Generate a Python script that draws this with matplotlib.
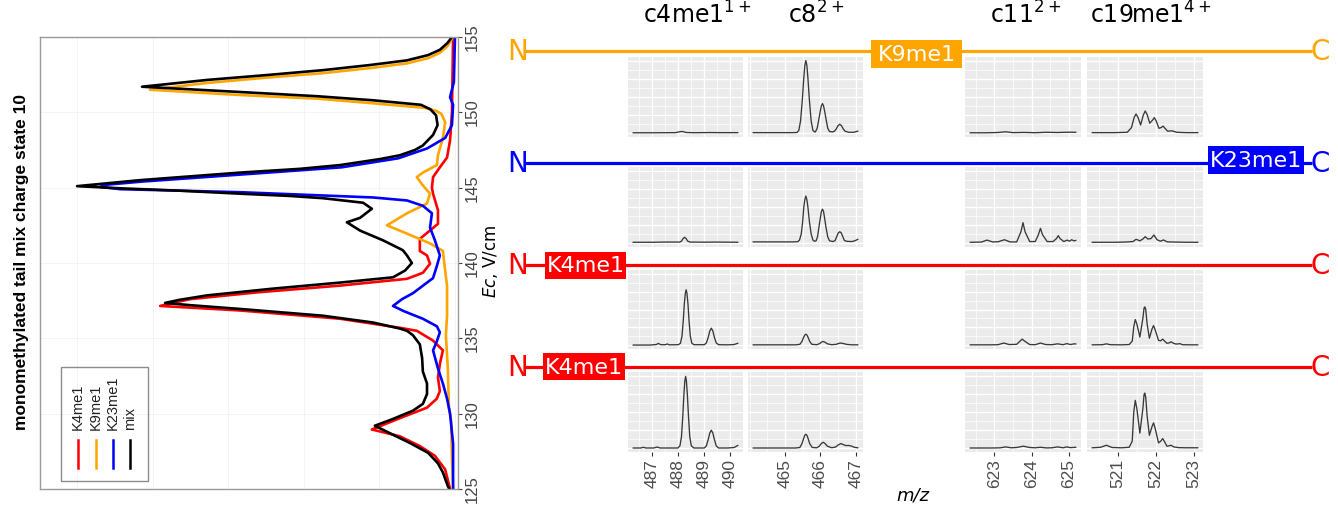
import matplotlib.pyplot as plt
from matplotlib.patches import Rectangle
from matplotlib.ticker import MultipleLocator

W, H = 1338, 514

# ---- CV scans, charge state 10 (compensation field, relative intensity)
ec_k4 = [125.0, 126.3, 127.2, 127.85, 128.5, 128.95, 129.7, 130.4, 131.0, 131.5, 132.4,
         133.3, 134.2, 134.85, 135.5, 135.7, 136.3, 136.85, 137.15, 137.6, 138.05, 138.5,
         138.95, 139.35, 139.95, 140.5, 140.8, 141.6, 142.6, 143.5, 144.6, 145.0, 145.7,
         146.35, 147.0, 148.15, 150.0, 155.0]
int_k4 = [1.3, 2.6, 5.3, 9.3, 14.6, 22.0, 14.6, 7.4, 4.8, 4.0, 4.5,
          4.0, 3.2, 5.8, 10.1, 14.6, 30.4, 56.9, 78.0, 70.1, 52.4, 30.4,
          12.7, 8.5, 6.6, 7.4, 9.3, 9.3, 4.5, 4.5, 5.8, 6.1, 5.8,
          4.0, 2.1, 1.3, 0.8, 0.5]

ec_k9 = [125.0, 127.0, 129.5, 130.4, 133.0, 135.2, 136.5, 138.5, 139.5, 140.8, 141.3,
         141.95, 142.5, 143.3, 143.95, 144.6, 145.15, 145.7, 146.0, 146.5, 147.15, 148.3,
         149.35, 149.9, 150.1, 150.3, 150.6, 150.9, 151.15, 151.5, 151.95, 152.3, 152.6,
         152.95, 153.25, 153.6, 153.95, 154.4, 155.0]
int_k9 = [0.5, 0.8, 1.0, 1.6, 1.9, 2.4, 2.1, 2.1, 2.6, 3.2, 6.6,
          12.7, 18.0, 12.7, 7.4, 6.6, 8.5, 10.1, 8.5, 4.8, 4.5, 3.2,
          2.6, 3.6, 5.0, 8.0, 21.7, 36.0, 56.9, 80.7, 65.6, 50.0, 34.9,
          22.0, 12.7, 7.0, 4.0, 2.0, 0.5]

ec_k23 = [125.0, 128.0, 130.0, 131.0, 132.0, 133.0, 134.2, 134.8, 135.4, 135.8, 136.3,
          136.8, 137.15, 137.6, 138.0, 139.0, 139.8, 140.5, 141.5, 142.35, 143.3, 143.8,
          144.15, 144.35, 144.7, 144.9, 145.05, 145.2, 145.4, 145.9, 146.35, 146.95, 147.6,
          148.3, 149.15, 150.5, 151.0, 152.0, 155.0]
int_k23 = [0.5, 0.5, 1.3, 2.1, 3.2, 4.5, 5.8, 4.8, 4.0, 4.8, 8.5,
           13.5, 16.4, 14.0, 11.1, 5.8, 4.8, 4.0, 5.3, 6.6, 6.1, 8.5,
           12.7, 21.7, 56.9, 88.6, 94.0, 92.0, 83.0, 55.0, 30.0, 15.0, 7.4,
           2.6, 0.8, 0.5, 1.3, 0.3, 0.0]

ec_mix = [125.0, 125.2, 126.1, 126.7, 127.4, 128.05, 128.7, 129.2, 129.65, 130.2, 130.65,
          131.3, 132.0, 132.8, 133.7, 134.6, 135.2, 135.5, 135.65, 136.05, 136.5, 136.95,
          137.2, 137.35, 137.55, 137.85, 138.3, 138.7, 139.05, 139.5, 140.0, 140.5, 140.85,
          141.5, 142.15, 142.7, 143.0, 143.6, 144.0, 144.3, 144.45, 144.6, 144.8, 144.95,
          145.1, 145.5, 146.0, 146.25, 146.5, 146.9, 147.15, 147.5, 147.8, 148.5, 149.15,
          149.8, 150.2, 150.5, 150.8, 151.07, 151.35, 151.7, 152.15, 152.47, 152.8, 153.14,
          153.45, 153.8, 154.15, 154.6, 155.0]
int_mix = [1.5, 1.9, 3.2, 4.5, 7.1, 11.9, 17.2, 21.2, 16.4, 11.1, 8.5,
           7.4, 7.4, 8.5, 8.7, 9.3, 11.1, 12.7, 14.6, 21.7, 34.9, 56.9,
           70.0, 76.7, 73.0, 65.6, 48.1, 30.4, 16.4, 13.2, 11.4, 12.7, 13.8,
           19.0, 25.1, 28.6, 25.1, 22.0, 24.3, 34.9, 43.7, 56.9, 72.8, 87.8,
           100.0, 83.3, 56.9, 41.0, 30.4, 19.8, 14.6, 10.6, 8.5, 5.8, 4.6,
           5.0, 6.5, 9.0, 21.7, 36.5, 56.9, 82.8, 65.6, 50.0, 34.9, 22.5,
           12.7, 7.1, 4.0, 2.0, 0.8]

trace_labels = ["K4me1", "K9me1", "K23me1", "mix"]
trace_colors = ["#ff0000", "#ffa500", "#0000ff", "#000000"]

# ---- fragment spectra: rows = K9me1, K23me1, K4me1, K4me1; cols = fragment ions
frag_labels = [r"c4me1$^{1+}$", r"c8$^{2+}$", r"c11$^{2+}$", r"c19me1$^{4+}$"]
frag_ticks = [[487, 488, 489, 490], [465, 466, 467], [623, 624, 625], [521, 522, 523]]

mz_k9_c4 = [486.26, 487.0, 487.9, 488.05, 488.15, 488.3, 488.6, 489.2, 489.6, 490.29]
in_k9_c4 = [0.8, 0.8, 1.0, 2.2, 2.6, 1.2, 0.9, 1.1, 1.0, 1.0]
mz_k9_c8 = [464.1, 465.2, 465.34, 465.39, 465.44, 465.49, 465.53, 465.56, 465.59, 465.62,
            465.65, 465.69, 465.74, 465.79, 465.84, 465.86, 465.91, 465.96, 466.0, 466.03,
            466.06, 466.09, 466.12, 466.16, 466.21, 466.26, 466.35, 466.4, 466.45, 466.5,
            466.55, 466.6, 466.65, 466.7, 466.8, 466.95, 467.06]
in_k9_c8 = [1, 1, 1.2, 4, 17, 46, 75, 93, 100, 93,
            75, 46, 17, 4, 2, 2, 7, 20, 31, 38,
            41, 38, 31, 20, 7, 2.5, 2, 3, 6, 10.5,
            12.5, 10.5, 6, 3, 1.5, 1.5, 3]
mz_k9_c11 = [622.35, 622.8, 623.1, 623.3, 623.5, 623.8, 624.1, 624.4, 624.7, 625.0, 625.19]
in_k9_c11 = [0.8, 0.8, 1.2, 2.2, 1.0, 1.3, 0.9, 1.5, 1.2, 1.6, 1.5]
mz_k9_c19 = [520.33, 520.9, 521.25, 521.36, 521.43, 521.48, 521.53, 521.6, 521.67, 521.72,
             521.77, 521.84, 521.91, 521.96, 522.01, 522.08, 522.14, 522.19, 522.24, 522.31,
             522.42, 522.55, 522.8, 523.1]
in_k9_c19 = [1, 1, 1.5, 8, 22, 26.7, 22, 11.5, 25, 30.8, 26, 14, 18, 21.6, 17, 7, 8, 10, 7, 3,
             3.5, 1.5, 1, 1]

mz_k23_c4 = [486.26, 487.0, 487.5, 488.05, 488.12, 488.18, 488.24, 488.3, 488.36, 488.45,
             489.0, 489.5, 490.29]
in_k23_c4 = [1.5, 1.5, 1.8, 1.8, 3, 6.5, 8.4, 6.5, 3, 1.8, 1.6, 1.8, 1.5]
mz_k23_c8 = [464.1, 465.2, 465.36, 465.41, 465.46, 465.5, 465.53, 465.56, 465.59, 465.62,
             465.65, 465.69, 465.74, 465.79, 465.84, 465.88, 465.92, 465.96, 466.0, 466.03,
             466.06, 466.09, 466.12, 466.16, 466.21, 466.26, 466.36, 466.42, 466.47, 466.51,
             466.55, 466.59, 466.63, 466.68, 466.75, 466.9, 467.0, 467.06]
in_k23_c8 = [2, 2, 2.3, 4.5, 13, 30, 49, 60, 65, 60,
             49, 30, 13, 4.5, 2.8, 3.5, 9, 22, 35, 44,
             47, 44, 35, 22, 9, 3.5, 2.5, 4, 10, 14.5,
             16, 14.5, 10, 4, 2.8, 2.5, 4, 5.6]
mz_k23_c11 = [622.35, 622.65, 622.8, 622.95, 623.1, 623.27, 623.42, 623.6, 623.715, 623.77,
              623.825, 623.95, 624.1, 624.185, 624.24, 624.295, 624.42, 624.58, 624.67, 624.72,
              624.77, 624.87, 624.96, 625.02, 625.08, 625.14, 625.19]
in_k23_c11 = [1.5, 1.8, 4.5, 2.0, 2.2, 5.0, 2.0, 2.0, 16, 28.5, 16, 2.5, 2.5, 12, 20.7, 12, 2.5,
              2.5, 6.5, 10.6, 6.5, 2.5, 4.5, 3, 5, 3.5, 4]
mz_k23_c19 = [520.33, 520.9, 521.2, 521.4, 521.48, 521.58, 521.66, 521.72, 521.79, 521.87,
              521.95, 522.03, 522.12, 522.2, 522.3, 522.5, 522.8, 523.1]
in_k23_c19 = [1.5, 1.5, 1.8, 2.5, 5.6, 3.5, 6, 9.2, 6, 6.5, 11.5, 5, 3, 4.7, 2, 1.8, 1.5, 1.5]

mz_k4a_c4 = [486.26, 486.9, 487.15, 487.23, 487.32, 487.5, 487.57, 487.65, 488.0, 488.08,
             488.14, 488.19, 488.23, 488.27, 488.3, 488.33, 488.37, 488.41, 488.46, 488.52,
             488.6, 489.0, 489.08, 489.15, 489.21, 489.27, 489.33, 489.39, 489.46, 489.55,
             489.9, 490.15, 490.29]
in_k4a_c4 = [0.5, 0.5, 1.2, 2.8, 1.0, 1.0, 2.0, 0.8, 1.0, 3,
             13, 35, 58, 73, 77.5, 73, 58, 35, 13, 3,
             1.0, 1.0, 3.5, 11, 20, 24, 20, 11, 3.5, 1.0,
             0.8, 1.2, 3]
mz_k4a_c8 = [464.1, 465.3, 465.42, 465.48, 465.53, 465.56, 465.59, 465.62, 465.65, 465.7,
             465.76, 465.9, 465.98, 466.03, 466.08, 466.13, 466.2, 466.32, 466.45, 466.52,
             466.58, 466.65, 466.75, 466.9, 467.06]
in_k4a_c8 = [0.8, 0.8, 1.5, 5.5, 11.5, 14.5, 15.6, 14.5, 11.5, 5.5,
             1.5, 1.0, 2.5, 4.5, 5.5, 4.5, 2.2, 1.0, 1.5, 2.8,
             3.3, 2.6, 1.4, 0.8, 0.8]
mz_k4a_c11 = [622.35, 622.9, 623.1, 623.25, 623.4, 623.6, 623.7, 623.75, 623.8, 623.95,
              624.1, 624.24, 624.38, 624.55, 624.7, 624.85, 624.95, 625.05, 625.15, 625.19]
in_k4a_c11 = [0.8, 0.8, 1.0, 3.3, 1.2, 1.5, 6.5, 8.8, 6.5, 1.2, 1.0, 3.3, 1.2, 1.0, 2.2, 1.0,
              2.5, 1.2, 2.2, 2.0]
mz_k4a_c19 = [520.33, 520.6, 520.7, 520.8, 521.1, 521.3, 521.38, 521.42, 521.46, 521.5,
              521.58, 521.66, 521.69, 521.71, 521.735, 521.77, 521.83, 521.9, 521.94, 521.98,
              522.07, 522.13, 522.18, 522.23, 522.29, 522.35, 522.4, 522.46, 522.52, 522.58,
              522.63, 522.7, 522.9, 523.1]
in_k4a_c19 = [0.8, 1.0, 2.2, 1.0, 0.8, 1.2, 6, 26, 36, 30, 11.6, 38, 52, 53.7, 50, 30, 10, 23,
              27.6, 22, 7, 6.5, 8.8, 6, 3, 3.5, 5, 3, 2.0, 2.0, 2.5, 1.0, 0.8, 0.8]

mz_k4b_c4 = [486.26, 486.55, 486.65, 486.75, 487.05, 487.18, 487.3, 487.98, 488.06, 488.12,
             488.17, 488.21, 488.25, 488.28, 488.31, 488.35, 488.39, 488.44, 488.5, 488.6,
             489.0, 489.08, 489.15, 489.21, 489.27, 489.33, 489.39, 489.46, 489.55, 489.9,
             490.15, 490.29]
in_k4b_c4 = [0.5, 0.5, 1.5, 0.5, 0.5, 1.8, 0.5, 0.5, 3.5, 16,
             44, 72, 93, 99, 93, 72, 44, 16, 3.5, 0.5,
             0.5, 3.5, 12, 21, 25, 21, 12, 3.5, 0.5, 0.5,
             1.2, 4]
mz_k4b_c8 = [464.1, 465.3, 465.42, 465.48, 465.53, 465.56, 465.59, 465.62, 465.65, 465.7,
             465.77, 465.9, 465.97, 466.03, 466.08, 466.13, 466.2, 466.32, 466.43, 466.5,
             466.58, 466.65, 466.72, 466.8, 466.88, 466.96, 467.06]
in_k4b_c8 = [0.5, 0.5, 1.2, 6.5, 14, 18, 19.4, 18, 14, 6.5,
             1.2, 0.8, 3, 6.8, 8.4, 6.8, 3, 0.9, 1.8, 4.5,
             6.6, 5.2, 3.8, 4.0, 3.2, 1.5, 0.8]
mz_k4b_c11 = [622.35, 622.9, 623.15, 623.3, 623.45, 623.6, 623.78, 623.95, 624.1, 624.24,
              624.4, 624.55, 624.7, 624.85, 624.95, 625.05, 625.19]
in_k4b_c11 = [0.5, 0.5, 0.7, 2.0, 0.8, 1.2, 3.0, 1.2, 0.8, 1.5, 0.6, 0.8, 2.0, 0.8, 2.0, 1.0, 1.5]
mz_k4b_c19 = [520.33, 520.55, 520.7, 520.85, 521.1, 521.3, 521.38, 521.42, 521.46, 521.5,
              521.58, 521.66, 521.69, 521.71, 521.735, 521.77, 521.83, 521.9, 521.94, 521.98,
              522.07, 522.13, 522.18, 522.23, 522.29, 522.35, 522.4, 522.47, 522.6, 522.8, 523.1]
in_k4b_c19 = [0.8, 1.5, 4.3, 1.2, 0.8, 1.5, 10, 50, 66, 55, 21, 55, 74, 76, 70, 45, 18, 30, 35,
              28, 7.5, 10, 13.5, 9, 3, 3.5, 4.3, 2, 1, 0.8, 0.8]

spectra = [
    [(mz_k9_c4, in_k9_c4), (mz_k9_c8, in_k9_c8), (mz_k9_c11, in_k9_c11), (mz_k9_c19, in_k9_c19)],
    [(mz_k23_c4, in_k23_c4), (mz_k23_c8, in_k23_c8), (mz_k23_c11, in_k23_c11), (mz_k23_c19, in_k23_c19)],
    [(mz_k4a_c4, in_k4a_c4), (mz_k4a_c8, in_k4a_c8), (mz_k4a_c11, in_k4a_c11), (mz_k4a_c19, in_k4a_c19)],
    [(mz_k4b_c4, in_k4b_c4), (mz_k4b_c8, in_k4b_c8), (mz_k4b_c11, in_k4b_c11), (mz_k4b_c19, in_k4b_c19)],
]

# peptide schematics
row_mods = ["K9me1", "K23me1", "K4me1", "K4me1"]
row_colors = ["#ffa500", "#0000ff", "#ff0000", "#ff0000"]


def px_rect(x0, y0, x1, y1):
    return [x0 / W, 1 - y1 / H, (x1 - x0) / W, (y1 - y0) / H]


fig = plt.figure(figsize=(W / 100, H / 100), dpi=100)

# ---------------- left: CV traces, drawn sideways
ax = fig.add_axes(px_rect(40, 37, 458, 489))
for ec, inten, col in zip([ec_k4, ec_k9, ec_k23, ec_mix],
                          [int_k4, int_k9, int_k23, int_mix], trace_colors):
    ax.plot(inten, ec, color=col, lw=1.9, solid_joinstyle="round")
ax.set_xlim(109.8, -0.8)
ax.set_ylim(125, 155)
ax.set_xticks([0, 20, 40, 60, 80, 100])
ax.set_yticks(range(125, 156, 5))
ax.yaxis.tick_right()
ax.tick_params(axis="x", length=0, labelbottom=False)
ax.tick_params(axis="y", labelrotation=90, labelsize=12, colors="#444444",
               length=3, pad=2)
for lab in ax.get_yticklabels():
    lab.set_family("Liberation Sans")
    lab.set_verticalalignment("center")
ax.grid(color="#f2f2f2", lw=0.6)
ax.set_axisbelow(True)
for s in ax.spines.values():
    s.set_color("#9a9a9a")
    s.set_linewidth(1.0)

# ---------------- right: fragment spectra
col_x = [(628, 743), (748, 863), (965, 1081), (1087, 1203)]
row_y = [(57, 137), (167, 247), (270, 349), (372, 452)]
for r, (y0, y1) in enumerate(row_y):
    for c, (x0, x1) in enumerate(col_x):
        sp = fig.add_axes(px_rect(x0, y0, x1, y1))
        mz, inten = spectra[r][c]
        sp.plot(mz, inten, color="#383838", lw=0.95, solid_joinstyle="round")
        sp.set_facecolor("#ebebeb")
        sp.margins(x=0.05)
        sp.set_ylim(-5, 105)
        sp.xaxis.set_major_locator(MultipleLocator(1))
        sp.xaxis.set_minor_locator(MultipleLocator(0.5))
        sp.yaxis.set_major_locator(MultipleLocator(25))
        sp.yaxis.set_minor_locator(MultipleLocator(12.5))
        sp.grid(which="major", color="white", lw=1.0)
        sp.grid(which="minor", color="white", lw=0.5)
        sp.set_axisbelow(True)
        for s in sp.spines.values():
            s.set_visible(False)
        sp.tick_params(which="both", left=False, labelleft=False)
        sp.tick_params(which="minor", bottom=False)
        if r == len(row_y) - 1:
            sp.set_xticks(frag_ticks[c])
            sp.set_xticklabels([str(t) for t in frag_ticks[c]], rotation=90,
                               family="Liberation Sans", fontsize=12.5, color="#4d4d4d")
            sp.tick_params(axis="x", which="major", length=3, width=0.8,
                           color="#333333", pad=2)
        else:
            sp.tick_params(axis="x", which="major", length=0, labelbottom=False)

# ---------------- overlay for schematic, labels and legend
ov = fig.add_axes([0, 0, 1, 1], facecolor="none")
ov.set_xlim(0, W)
ov.set_ylim(H, 0)
ov.axis("off")

line_y = [51, 163, 265, 367]
box_x = [(871, 962), (1208, 1304), (545, 626), (543, 625)]
box_y = [(40, 68), (146, 174), (252, 279), (353, 380)]
for yl, col, mod, (bx0, bx1), (by0, by1) in zip(line_y, row_colors, row_mods, box_x, box_y):
    ov.plot([524, 1312], [yl, yl], color=col, lw=2.3, solid_capstyle="butt")
    ov.text(507, yl + 1, "N", color=col, fontsize=20, family="DejaVu Sans",
            ha="left", va="center")
    ov.text(1310, yl + 1, "C", color=col, fontsize=20, family="DejaVu Sans",
            ha="left", va="center")
    ov.add_patch(Rectangle((bx0, by0), bx1 - bx0, by1 - by0, color=col, lw=0))
    ov.text((bx0 + bx1) / 2, (by0 + by1) / 2 + 1, mod, color="white", fontsize=16,
            family="DejaVu Sans", ha="center", va="center")

for lab, x in zip(frag_labels, [643, 788, 990, 1090]):
    ov.text(x, 24, lab, fontsize=17, family="DejaVu Sans", ha="left", va="baseline")

ov.text(913, 496, "m/z", fontsize=13, family="DejaVu Sans", style="italic",
        ha="center", va="center")
ov.text(491, 261, r"$Ec$, V/cm", fontsize=12, family="DejaVu Sans", rotation=90,
        ha="center", va="center")
ov.text(22, 262, "monomethylated tail mix charge state 10", fontsize=12.5,
        family="Liberation Sans", weight="bold", rotation=90, ha="center", va="center")

# legend, rotated with the plot
ov.add_patch(Rectangle((61, 367), 87, 114, fill=False, ec="#8c8c8c", lw=1.0))
for lab, col, x in zip(trace_labels, trace_colors, [78, 96, 113, 130]):
    ov.plot([x, x], [440, 468], color=col, lw=1.8)
    ov.text(x, 430, lab, rotation=90, fontsize=10.5, family="Liberation Sans",
            color="#222222", ha="center", va="bottom")

fig.savefig("out.png", dpi=100)
